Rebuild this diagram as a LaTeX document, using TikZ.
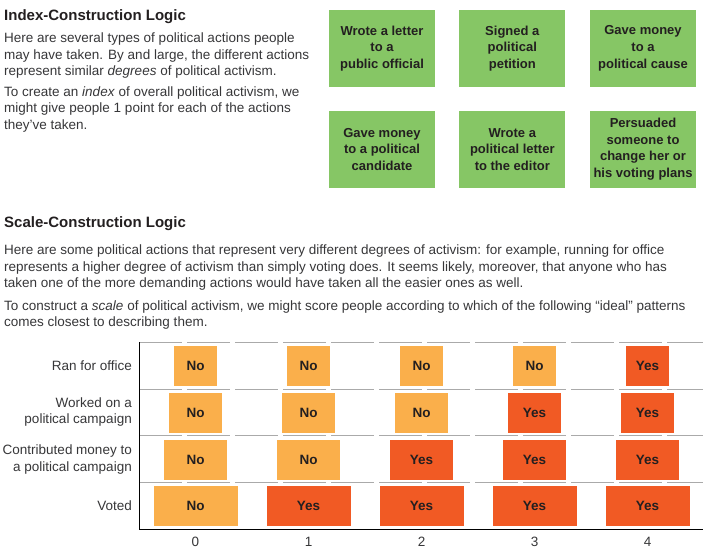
\documentclass[tikz,border=0pt]{standalone}
\usepackage{fontspec}
\setmainfont{Liberation Sans}
\definecolor{boxgreen}{RGB}{134,198,101}
\definecolor{lightorange}{RGB}{250,175,75}
\definecolor{darkorange}{RGB}{241,90,36}
\definecolor{ink}{RGB}{35,31,32}
\definecolor{bodytext}{RGB}{55,55,57}
\definecolor{gridgray}{RGB}{170,170,170}
\begin{document}
\begin{tikzpicture}[x=1pt,y=-1pt,
  heading/.style={anchor=base west, inner sep=0, font=\fontsize{15}{18}\selectfont\bfseries, text=ink},
  bodyline/.style={anchor=base west, inner sep=0, font=\fontsize{13.5}{16.7}\selectfont, text=bodytext},
  actionbox/.style={fill=boxgreen, minimum width=106pt, minimum height=77pt, inner sep=0, align=center, font=\fontsize{13}{16.6}\selectfont\bfseries, text=ink},
  rowlabel/.style={anchor=east, inner sep=0, align=right, font=\fontsize{13.5}{16.7}\selectfont, text=bodytext},
  ticklabel/.style={inner sep=0, font=\fontsize{13.5}{16}\selectfont, text=bodytext},
  cellno/.style={fill=lightorange, minimum height=40pt, inner sep=0, font=\fontsize{13.5}{15}\selectfont\bfseries, text=ink},
  cellyes/.style={cellno, fill=darkorange},
  gridline/.style={draw=gridgray, line width=0.9pt, dash pattern=on 43pt off 5pt},
  axisline/.style={draw=black, line width=1pt},
]
\useasboundingbox[fill=white] (0,0) rectangle (703,549);

% ---- Index construction ----
\node[heading] (indextitle) at (4,20) {Index-Construction Logic};
\node[bodyline] (ia1) at (4,42.5) {Here are several types of political actions people};
\node[bodyline] (ia2) at (4,59.2) {may have taken. By and large, the different actions};
\node[bodyline] (ia3) at (4,75.9) {represent similar \textit{degrees} of political activism.};
\node[bodyline] (ib1) at (4,96) {To create an \textit{index} of overall political activism, we};
\node[bodyline] (ib2) at (4,112.7) {might give people 1 point for each of the actions};
\node[bodyline] (ib3) at (4,129.4) {they've taken.};

\node[actionbox] (act1) at (382,48.3) {Wrote a letter\\to a\\public official};
\node[actionbox] (act2) at (512.3,48.3) {Signed a\\political\\petition};
\node[actionbox] (act3) at (643,48.3) {Gave money\\to a\\political cause};
\node[actionbox] (act4) at (382,149.3) {Gave money\\to a political\\candidate};
\node[actionbox] (act5) at (512.3,149.3) {Wrote a\\political letter\\to the editor};
\node[actionbox] (act6) at (643,149.3) {Persuaded\\someone to\\change her or\\his voting plans};

% ---- Scale construction ----
\node[heading] (scaletitle) at (4,227) {Scale-Construction Logic};
\node[bodyline] (sa1) at (4,254.5) {Here are some political actions that represent very different degrees of activism: for example, running for office};
\node[bodyline] (sa2) at (4,271.2) {represents a higher degree of activism than simply voting does. It seems likely, moreover, that anyone who has};
\node[bodyline] (sa3) at (4,287.9) {taken one of the more demanding actions would have taken all the easier ones as well.};
\node[bodyline] (sb1) at (4,310) {To construct a \textit{scale} of political activism, we might score people according to which of the following “ideal” patterns};
\node[bodyline] (sb2) at (4,326.7) {comes closest to describing them.};

% grid of ideal patterns
\foreach \gy in {342,389,435.5,482}
  \draw[gridline] (139,\gy) -- (703,\gy);
\coordinate (axtop) at (139,342);
\coordinate (axorigin) at (139,529);
\coordinate (axright) at (703,529);
\draw[axisline] (axtop) -- (axorigin) -- (axright);

\node[rowlabel] (lab0) at (132,366) {Ran for office};
\node[rowlabel] (lab1) at (132,412) {Worked on a\\political campaign};
\node[rowlabel] (lab2) at (132,459.5) {Contributed money to\\a political campaign};
\node[rowlabel] (lab3) at (132,506) {Voted};

\foreach \r/\w/\cy in {0/43/366,1/53/412.5,2/63/459.5,3/84/506}{
  \foreach \c in {0,...,4}{
    \ifnum\numexpr\c+\r\relax<4
      \node[cellno, minimum width=\w pt] (cell-\r-\c) at ({195.5+113*\c},\cy) {No};
    \else
      \node[cellyes, minimum width=\w pt] (cell-\r-\c) at ({195.5+113*\c},\cy) {Yes};
    \fi
  }
}
\foreach \c in {0,...,4}
  \node[ticklabel] (tick-\c) at ({195.5+113*\c},542) {\c};
\end{tikzpicture}
\end{document}
